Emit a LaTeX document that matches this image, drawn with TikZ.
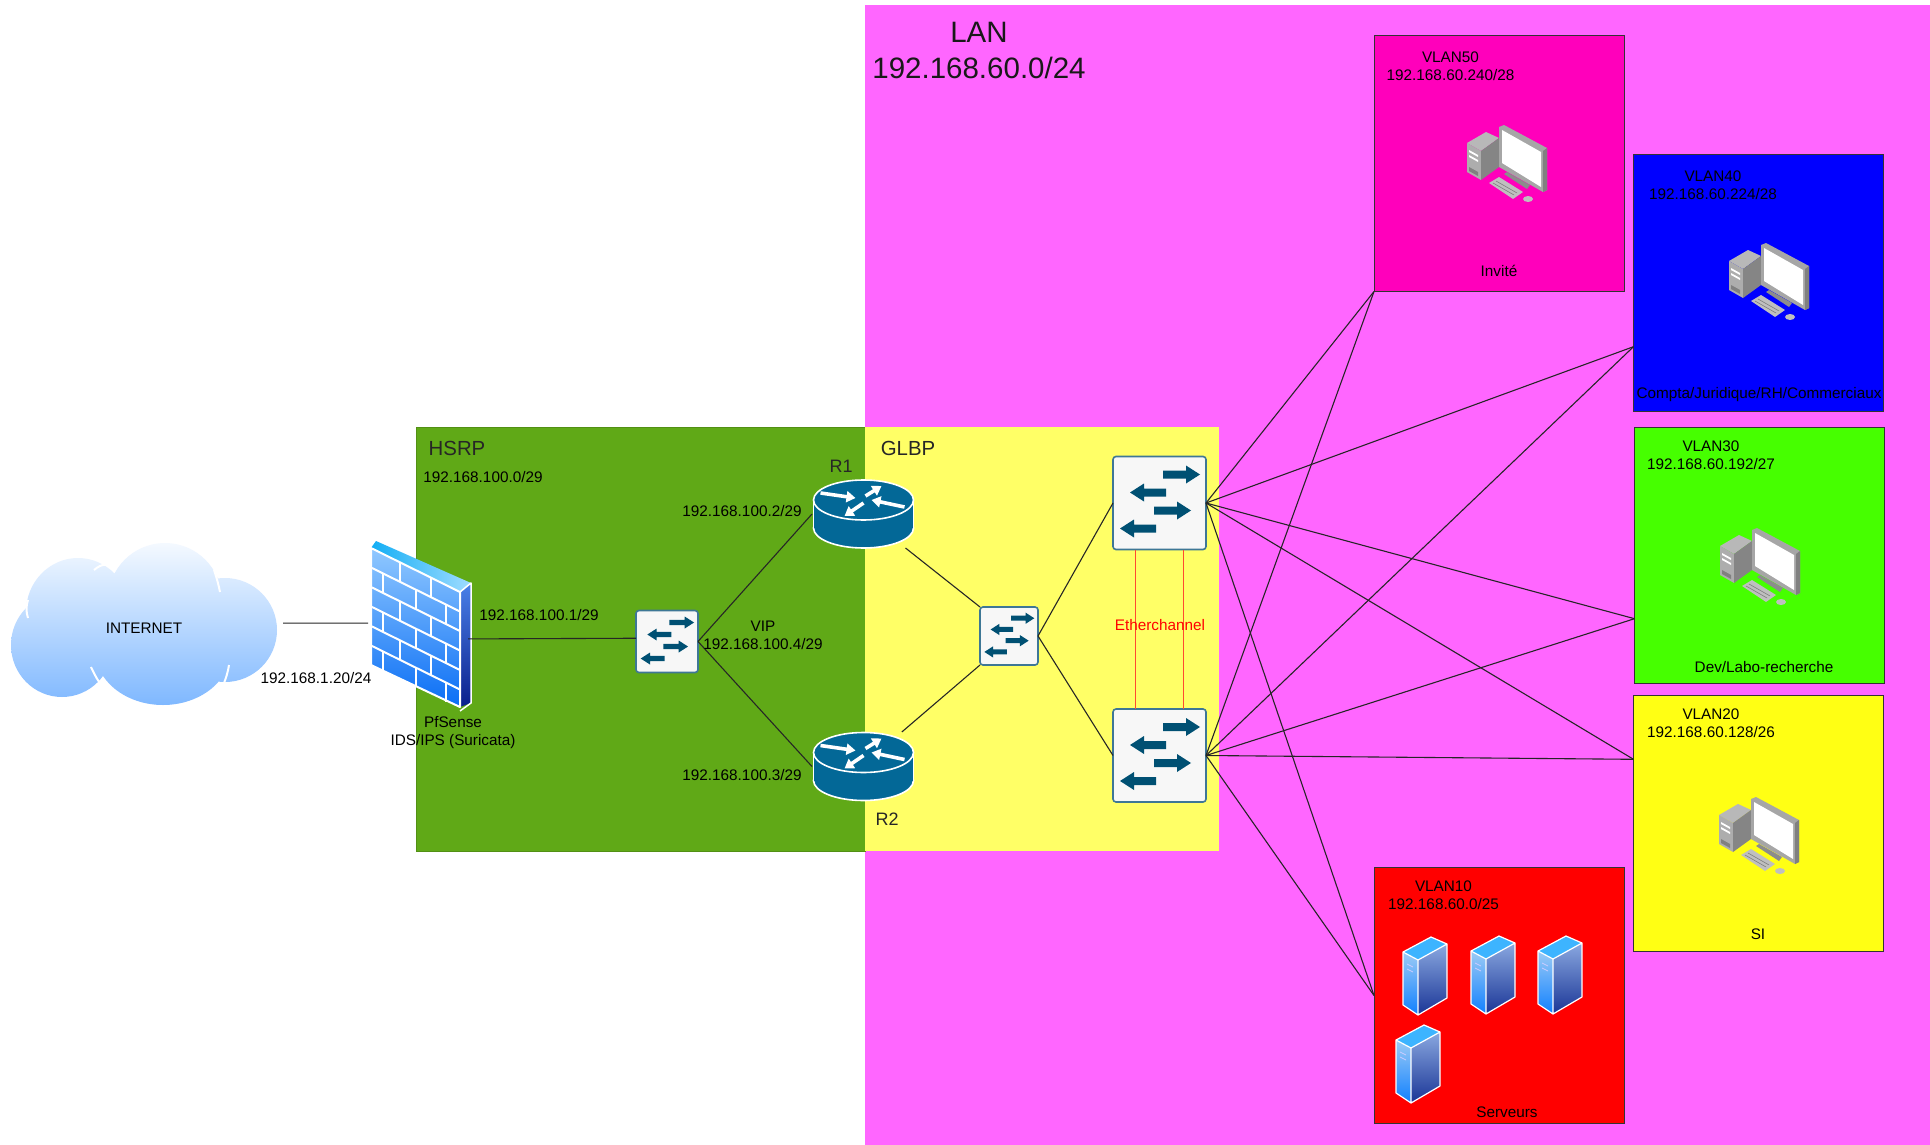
\documentclass[tikz,border=0pt]{standalone}
\usepackage{fontspec}
\usepackage{xcolor}
\setmainfont{Liberation Sans}
\usetikzlibrary{shapes,arrows.meta,positioning,calc}

\definecolor{lancol}{HTML}{FF66FF}
\definecolor{hsrpcol}{HTML}{60A917}
\definecolor{glbpcol}{HTML}{FFFF66}
\definecolor{vfiftycol}{HTML}{FF00BB}
\definecolor{vfortycol}{HTML}{0000FF}
\definecolor{vthirtycol}{HTML}{46FF00}
\definecolor{vtwentycol}{HTML}{FFFF14}
\definecolor{vtencol}{HTML}{FF0000}
\definecolor{ciscoblue}{HTML}{036897}
\definecolor{swarrow}{HTML}{005073}
\definecolor{swedge}{HTML}{3E7796}
\definecolor{ethcol}{HTML}{FF4A30}
\definecolor{cloudtop}{HTML}{F4F9FF}
\definecolor{cloudbot}{HTML}{7FB8FF}
\definecolor{srvcap}{HTML}{3DB4FF}
\definecolor{srvlighttop}{HTML}{9CCBF5}
\definecolor{srvlightbot}{HTML}{1080FF}
\definecolor{srvdarktop}{HTML}{8AA8E0}
\definecolor{srvdarkbot}{HTML}{1A3596}
\definecolor{fwtop}{HTML}{90C8FF}
\definecolor{fwbot}{HTML}{0A6EF5}
\definecolor{fwcapa}{HTML}{12AEF5}
\definecolor{fwcapb}{HTML}{A0DCFF}
\definecolor{fwsidetop}{HTML}{4A80E8}
\definecolor{fwsidebot}{HTML}{0A1F8C}

\tikzset{
  zone/.style={rectangle, anchor=north west, inner sep=0, outer sep=0},
  vlanbox/.style={rectangle, draw=black!80, line width=1pt, inner sep=0, outer sep=0, minimum width=250pt, minimum height=256pt},
  swbox/.style={rectangle, draw=swedge, line width=1.6pt, rounded corners=3pt, fill=white!97!black, inner sep=0, outer sep=0},
  iconbox/.style={rectangle, inner sep=0, outer sep=0},
  lbl/.style={font=\fontsize{15.3}{18}\selectfont, text=black, inner sep=0, align=center},
  biglbl/.style={font=\fontsize{20.4}{24}\selectfont, text=black!85, inner sep=0},
  lanlbl/.style={font=\fontsize{29.5}{36}\selectfont, text=black!90, inner sep=0, align=center},
  link/.style={draw=black!85, line width=1.1pt},
  swarrows/.pic={
    \foreach \xa/\xb/\yy/\dd in {50/87/18/1, 53/17/36/-1, 41/78/54/1, 43/7/72/-1}
      \fill[swarrow] (\xa,{\yy-4}) -- ({\xb-(\dd)*14},{\yy-4}) -- ({\xb-(\dd)*14},{\yy-9}) -- (\xb,\yy)
        -- ({\xb-(\dd)*14},{\yy+9}) -- ({\xb-(\dd)*14},{\yy+4}) -- (\xa,{\yy+4}) -- cycle;
  },
  routerpic/.pic={
    \filldraw[fill=ciscoblue, draw=white, line width=1.6pt] (0,14) ellipse [x radius=50, y radius=20];
    \fill[ciscoblue] (-50,-14) rectangle (50,14);
    \draw[white, line width=1.6pt] (-50,-14) -- (-50,14) (50,-14) -- (50,14);
    \filldraw[fill=ciscoblue, draw=white, line width=1.6pt] (0,-14) ellipse [x radius=50, y radius=20];
    \foreach \ax/\ay/\bx/\by in {-43/-21/-8/-16, 2/-18/18/-28, 41/-7/8/-14, 0/-11/-19/2}
      \draw[white, line width=3.6pt, -{Triangle[width=11pt,length=9pt]}] (\ax,\ay) -- (\bx,\by);
  },
  pcpic/.pic={
    \fill[black!28] (0,18) -- (19,7) -- (32,13) -- (14,26) -- cycle;
    \fill[black!32] (0,18) -- (14,26) -- (14,55) -- (0,47) -- cycle;
    \fill[black!48] (14,26) -- (32,13) -- (32,42) -- (14,55) -- cycle;
    \fill[white] (2,25) -- (11,30) -- (11,32) -- (2,27) -- cycle (2,30) -- (11,35) -- (11,37) -- (2,32) -- cycle;
    \fill[black!50] (2,42) -- (11,47) -- (11,51) -- (2,46) -- cycle;
    \fill[black!45] (37,49) -- (40,47) -- (63,60) -- (60,64) -- cycle;
    \fill[black!35] (32,2) -- (37,0) -- (80,23) -- (80,65) -- (76,67) -- (32,42) -- cycle;
    \fill[black!50] (76,26) -- (80,23) -- (80,65) -- (76,67) -- cycle;
    \fill[white] (35,5) -- (74,27) -- (74,62) -- (35,38) -- cycle;
    \fill[black!25] (22,58) -- (32,52) -- (56,67) -- (46,74) -- cycle;
    \draw[black!55, line width=.5pt] (26,58) -- (47,70) (29,56) -- (50,68);
    \fill[black!25] (61,74) ellipse [x radius=5, y radius=3];
  },
  serverpic/.pic={
    \fill[srvcap] (0,15) -- (28,0) -- (44,7) -- (15,23) -- cycle;
    \shade[top color=srvlighttop, bottom color=srvlightbot] (0,15) -- (15,23) -- (15,78) -- (0,68) -- cycle;
    \shade[top color=srvdarktop, bottom color=srvdarkbot] (15,23) -- (44,7) -- (44,61) -- (15,78) -- cycle;
    \draw[white, line width=1.2pt, line join=round] (0,15) -- (28,0) -- (44,7) -- (44,61) -- (15,78) -- (0,68) -- cycle
      (0,15) -- (15,23) -- (44,7) (15,23) -- (15,78);
    \draw[white!80!blue, line width=.7pt] (4,27) -- (10,30) (4,32) -- (10,35);
  }
}

\begin{document}
\begin{tikzpicture}[x=1pt, y=-1pt]
\useasboundingbox[fill=white] (0,0) rectangle (1930,1145);

% zones
\node[zone, fill=lancol, minimum width=1065pt, minimum height=1140pt] (lan) at (865,5) {};
\node[zone, fill=hsrpcol, draw=hsrpcol!85!black, minimum width=449pt, minimum height=424pt] (hsrp) at (416,427) {};
\node[zone, fill=glbpcol, minimum width=354pt, minimum height=424pt] (glbp) at (865,427) {};

% vlans
\node[vlanbox, fill=vfiftycol] (vlan50) at (1499,163.5) {};
\node[vlanbox, fill=vfortycol] (vlan40) at (1758.5,283) {};
\node[vlanbox, fill=vthirtycol] (vlan30) at (1759.5,555) {};
\node[vlanbox, fill=vtwentycol] (vlan20) at (1758.5,823) {};
\node[vlanbox, fill=vtencol] (vlan10) at (1499,995.5) {};

% boxes for the devices
\node[iconbox, minimum width=278pt, minimum height=162pt] (cloud) at (144,628) {};
\node[iconbox, minimum width=100pt, minimum height=170pt] (fw) at (418,631) {};
\node[swbox, minimum size=62pt] (sw0) at (667,641.5) {};
\node[iconbox, minimum width=103pt, minimum height=68pt] (r1) at (863.5,514) {};
\node[iconbox, minimum width=103pt, minimum height=69pt] (r2) at (863.5,766.5) {};
\node[swbox, minimum size=58pt] (swm) at (1009,636) {};
\node[swbox, minimum size=93pt] (swt) at (1159.5,503) {};
\node[swbox, minimum size=93pt] (swb) at (1159.5,755.5) {};

% links
\draw[link] (cloud.2) -- (fw.171);
\draw[link] (sw0.east) -- (r1.west);
\draw[link] (sw0.east) -- (r2.west);
\draw[link] (r1.-39) -- (swm.north west);
\draw[link] (r2.42) -- (swm.south west);
\draw[link] (swm.east) -- (swt.west);
\draw[link] (swm.east) -- (swb.west);
\foreach \vport in {vlan50.south west, vlan40.207, vlan30.207, vlan20.153, vlan10.west}
  \foreach \swname in {swt,swb}
    \draw[link] (\swname.east) -- (\vport);
\draw[draw=ethcol, line width=1pt] ([xshift=-24.5pt]swt.south) -- ([xshift=-24.5pt]swb.north);
\draw[draw=ethcol, line width=1pt] ([xshift=23.5pt]swt.south) -- ([xshift=23.5pt]swb.north);

% internet cloud
\shade[top color=cloudtop, bottom color=cloudbot]
  (165,600) ellipse [x radius=57, y radius=57]
  (78,612) ellipse [x radius=52, y radius=54]
  (62,645) ellipse [x radius=51, y radius=52]
  (225,630) ellipse [x radius=52, y radius=52]
  (163,650) ellipse [x radius=68, y radius=55];
\draw[white, line width=2pt] (94,570) .. controls (102,563) and (108,564) .. (114,567);
\draw[white, line width=2pt] (220,592) .. controls (218,582) and (216,576) .. (214,570);
\draw[white, line width=2pt] (28,618) .. controls (26,612) and (26,606) .. (28,600);
\draw[white, line width=2pt] (91,667) .. controls (96,678) and (101,686) .. (107,691);
\draw[white, line width=2pt] (229,665) .. controls (228,672) and (226,678) .. (224,683);

% firewall
\shade[top color=fwtop, bottom color=fwbot] (371,548) -- (460,592) -- (460,707) -- (371,665) -- cycle;
\shade[left color=fwcapa, right color=fwcapb] (371,548) -- (376,541) -- (471,583) -- (460,592) -- cycle;
\shade[top color=fwsidetop, bottom color=fwsidebot] (460,592) -- (471,583) -- (471,703) -- (460,707) -- cycle;
\begin{scope}[shift={(371,548)}, x={(89pt,-44pt)}, y={(0pt,-117pt)}]
  \foreach \rr in {1,...,5}
    \draw[white, line width=2pt] (0,{\rr/6}) -- (1,{\rr/6});
  \foreach \uu/\rr in {.33/0,.67/0,.13/1,.5/1,.84/1,.33/2,.67/2,.13/3,.5/3,.84/3,.33/4,.67/4,.13/5,.5/5,.84/5}
    \draw[white, line width=2pt] (\uu,{\rr/6}) -- (\uu,{(\rr+1)/6});
\end{scope}
\draw[white, line width=2pt, line join=round] (371,548) -- (460,592) -- (460,707) -- (371,665) -- cycle;
\draw[white, line width=1.5pt, line join=round] (460,592) -- (471,583) -- (471,703) -- (460,711);
\draw[link] (fw.-9) -- (sw0.174);

% icons
\pic[scale=0.667] at (sw0.north west) {swarrows};
\pic[scale=0.624] at (swm.north west) {swarrows};
\pic at (swt.north west) {swarrows};
\pic at (swb.north west) {swarrows};
\pic at (r1) {routerpic};
\pic at (r2) {routerpic};
\pic at (1467,125) {pcpic};
\pic at (1729,243) {pcpic};
\pic at (1720,528) {pcpic};
\pic at (1719,797) {pcpic};
\pic at (1403,937) {serverpic};
\pic at (1471,936) {serverpic};
\pic at (1538,936) {serverpic};
\pic at (1396,1025) {serverpic};

% labels
\node[lbl] (inetlbl) at (cloud) {INTERNET};
\node[lbl] (wanlbl) at (316,678) {192.168.1.20/24};
\node[lbl] (fwlbl) at (453,732.5) {PfSense\\IDS/IPS (Suricata)};
\node[lbl] (fwip) at (539,615) {192.168.100.1/29};
\node[biglbl] (hsrplbl) at (457,448) {HSRP};
\node[lbl] (hsrpnet) at (483,477) {192.168.100.0/29};
\node[lbl] (vip) at (763,635) {VIP\\192.168.100.4/29};
\node[lbl] (r1ip) at (742,511) {192.168.100.2/29};
\node[lbl] (r2ip) at (742,775) {192.168.100.3/29};
\node[biglbl, font=\fontsize{18}{22}\selectfont] (r1lbl) at (841,466) {R1};
\node[biglbl, font=\fontsize{18}{22}\selectfont] (r2lbl) at (887,819) {R2};
\node[biglbl] (glbplbl) at (908,448) {GLBP};
\node[lbl, text=red] (ethlbl) at (1160,625) {Etherchannel};
\node[lanlbl] (lanlbl) at (979,50) {LAN\\192.168.60.0/24};
\node[lbl] (v50lbl) at (1450.5,66) {VLAN50\\192.168.60.240/28};
\node[lbl] (v50name) at (1499,271) {Invité};
\node[lbl] (v40lbl) at (1713,185) {VLAN40\\192.168.60.224/28};
\node[lbl] (v40name) at (1759,394.5) {Compta/Juridique/RH/Commerciaux};
\node[lbl] (v30lbl) at (1711,455) {VLAN30\\192.168.60.192/27};
\node[lbl] (v30name) at (1764,667) {Dev/Labo-recherche};
\node[lbl] (v20lbl) at (1711,723) {VLAN20\\192.168.60.128/26};
\node[lbl] (v20name) at (1758,934) {SI};
\node[lbl] (v10lbl) at (1443.5,895) {VLAN10\\192.168.60.0/25};
\node[lbl] (v10name) at (1507,1112) {Serveurs};

\end{tikzpicture}
\end{document}
